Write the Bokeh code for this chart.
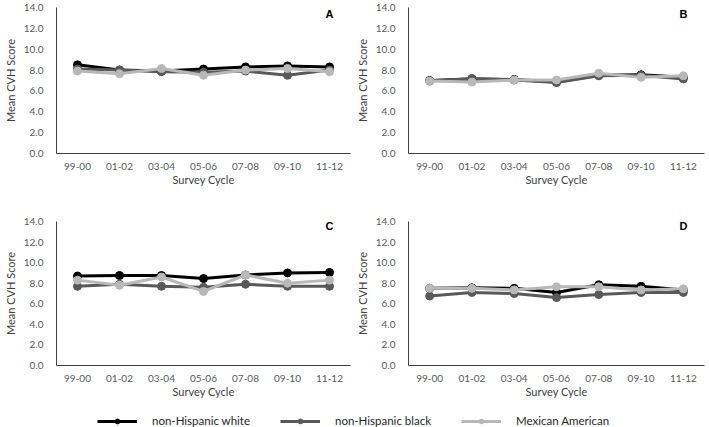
from bokeh.plotting import figure
from bokeh.layouts import column, row
from bokeh.models import (FactorRange, Range1d, FixedTicker, NumeralTickFormatter,
                          Label, Legend, LegendItem)
from bokeh.embed import file_html
from bokeh.resources import INLINE

cycles = ["99-00", "01-02", "03-04", "05-06", "07-08", "09-10", "11-12"]
y_ticks = [0, 2, 4, 6, 8, 10, 12, 14]
series_names = ["non-Hispanic white", "non-Hispanic black", "Mexican American"]
series_colors = ["#000000", "#595959", "#b8b8b8"]

a_white = [8.5, 8.0, 7.9, 8.1, 8.3, 8.4, 8.3]
a_black = [8.1, 8.0, 7.85, 7.8, 7.9, 7.5, 8.0]
a_mex = [7.9, 7.65, 8.15, 7.5, 8.0, 8.15, 7.85]

b_white = [7.0, 7.15, 7.1, 6.85, 7.5, 7.55, 7.3]
b_black = [6.95, 7.2, 7.05, 6.8, 7.45, 7.5, 7.15]
b_mex = [6.95, 6.85, 7.05, 7.05, 7.7, 7.3, 7.45]

c_white = [8.7, 8.75, 8.75, 8.45, 8.8, 9.0, 9.05]
c_black = [7.7, 7.9, 7.7, 7.6, 7.9, 7.7, 7.7]
c_mex = [8.3, 7.8, 8.6, 7.2, 8.8, 8.0, 8.3]

d_white = [7.5, 7.55, 7.5, 7.1, 7.85, 7.7, 7.35]
d_black = [6.75, 7.1, 7.0, 6.6, 6.9, 7.1, 7.1]
d_mex = [7.5, 7.5, 7.35, 7.65, 7.65, 7.35, 7.45]

FONT = "Lato"


def make_panel(letter, series, width, height, bl, bt, bb, br, letter_y):
    p = figure(x_range=FactorRange(factors=cycles), y_range=Range1d(0, 14),
               width=width, height=height, output_backend="svg", toolbar_location=None,
               min_border_left=bl, min_border_top=bt, min_border_bottom=bb,
               min_border_right=br)
    p.outline_line_color = None
    p.xgrid.grid_line_color = None
    p.ygrid.grid_line_color = None
    for vals, color in zip(series, series_colors):
        p.line(cycles, vals, line_color=color, line_width=3)
        p.scatter(cycles, vals, size=8, fill_color=color, line_color=color)
    for ax in (p.xaxis[0], p.yaxis[0]):
        ax.axis_line_color = "#404040"
        ax.axis_line_width = 1
        ax.major_tick_line_color = None
        ax.minor_tick_line_color = None
        ax.major_label_text_font = FONT
        ax.major_label_text_font_size = "10px"
        ax.major_label_text_color = "#595959"
        ax.axis_label_text_font = FONT
        ax.axis_label_text_font_size = "11px"
        ax.axis_label_text_font_style = "normal"
        ax.axis_label_text_color = "#404040"
    p.yaxis.ticker = FixedTicker(ticks=y_ticks)
    p.yaxis.formatter = NumeralTickFormatter(format="0.0")
    p.yaxis.axis_label = "Mean CVH Score"
    p.yaxis.major_label_standoff = 7
    p.yaxis.axis_label_standoff = 4
    p.xaxis.axis_label = "Survey Cycle"
    p.xaxis.major_label_standoff = 3
    p.xaxis.axis_label_standoff = 0
    p.add_layout(Label(x=6.5, y=letter_y, text=letter, text_font="Liberation Sans",
                       text_font_style="bold", text_font_size="11px",
                       text_align="center", text_baseline="middle",
                       text_color="#000000"))
    return p


pA = make_panel("A", [a_white, a_black, a_mex], 352, 200, 43, 7, 47, 2, 13.35)
pB = make_panel("B", [b_white, b_black, b_mex], 354, 200, 50, 7, 47, 2, 13.35)
pC = make_panel("C", [c_white, c_black, c_mex], 352, 200, 43, 21, 31, 2, 13.55)
pD = make_panel("D", [d_white, d_black, d_mex], 354, 200, 55, 21, 33, 2, 13.55)

# legend strip: same series drawn below its visible y-range, only the legend shows
pl = figure(width=706, height=27, output_backend="svg", toolbar_location=None,
            x_range=FactorRange(factors=cycles), y_range=Range1d(-20, -10),
            min_border_left=0, min_border_right=0, min_border_top=0, min_border_bottom=0)
pl.axis.visible = False
pl.xgrid.grid_line_color = None
pl.ygrid.grid_line_color = None
pl.outline_line_color = None
items = []
for name, vals, color in zip(series_names, [a_white, a_black, a_mex], series_colors):
    lr = pl.line(cycles, vals, line_color=color, line_width=3)
    sr = pl.scatter(cycles, vals, size=8, fill_color=color, line_color=color)
    items.append(LegendItem(label=name, renderers=[lr, sr]))
legend = Legend(items=items, orientation="horizontal", location=(97, 0),
                border_line_color=None, background_fill_alpha=0,
                label_text_font=FONT, label_text_font_size="11.5px",
                label_text_color="#262626", glyph_width=40, glyph_height=12,
                spacing=30, padding=0, margin=0, label_standoff=15)
pl.add_layout(legend)

layout = column(row(pA, pB), row(pC, pD), pl, spacing=0)
open("out.html", "w").write(file_html(layout, INLINE))
